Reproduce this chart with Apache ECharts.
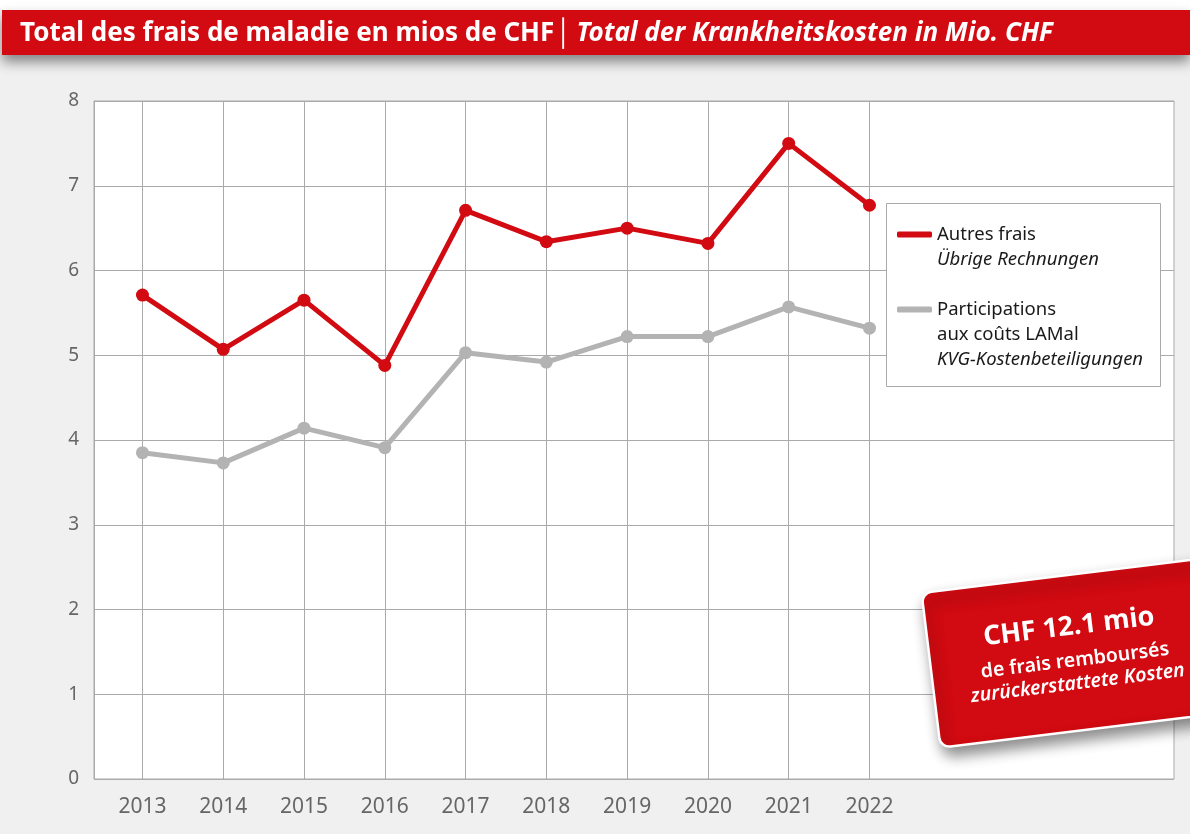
<!DOCTYPE html>
<html>
<head>
<meta charset="utf-8">
<script src="https://cdn.jsdelivr.net/npm/echarts@6/dist/echarts.min.js"></script>
<style>
  html, body { margin: 0; padding: 0; background: #fff; }
  #chart { width: 1190px; height: 834px; }
</style>
</head>
<body>
<div id="chart"></div>
<script>
// années et valeurs (mios CHF)
const years = [2013, 2014, 2015, 2016, 2017, 2018, 2019, 2020, 2021, 2022]
const autresFrais = [5.71, 5.07, 5.65, 4.88, 6.71, 6.34, 6.50, 6.32, 7.50, 6.77]
const participations = [3.85, 3.73, 4.14, 3.91, 5.03, 4.92, 5.22, 5.22, 5.57, 5.32]

const RED = '#d20a11'
const GREY = '#b3b3b3'
const FONT = '"Noto Sans", "Open Sans", sans-serif'

const pairs = vals => years.map((y, i) => [y, vals[i]])

const legendRich = {
  p: { fontFamily: FONT, fontSize: 18.5, lineHeight: 25, color: 'transparent' },
  a: { fontFamily: FONT, fontSize: 18.5, lineHeight: 25, color: '#1a1a1a' },
  b: { fontFamily: FONT, fontSize: 18.5, lineHeight: 25, fontStyle: 'italic', color: '#1a1a1a' }
}
// une légende par série, l'icône alignée sur la première ligne
const makeLegend = (name, top, lines) => ({
  left: 897,
  top: top,
  padding: 0,
  itemWidth: 35,
  itemHeight: 6,
  icon: 'roundRect',
  data: [name],
  formatter: () => lines,
  textStyle: { rich: legendRich }
})

var myChart = echarts.init(document.getElementById('chart'))

const option = {
  backgroundColor: '#f0f0f0',
  animation: false,
  textStyle: { fontFamily: FONT },
  title: {
    left: 15,
    top: 16,
    text: '{a|Total des frais de maladie en mios de CHF}{s|│}{b|Total der Krankheitskosten in Mio. CHF}',
    textStyle: {
      rich: {
        a: { fontFamily: FONT, fontSize: 26, fontWeight: 'bold', color: '#fff' },
        s: { fontFamily: FONT, fontSize: 26, fontWeight: 'normal', color: '#fff', padding: [0, 4, 0, 2] },
        b: { fontFamily: FONT, fontSize: 26, fontWeight: 'bold', fontStyle: 'italic', color: '#fff' }
      }
    }
  },
  grid: {
    left: 94, right: 16, top: 101, bottom: 55,
    show: true,
    backgroundColor: '#fff',
    borderColor: '#aaa',
    borderWidth: 1
  },
  legend: [
    makeLegend('Autres frais', 200, '{p| }\n{a|Autres frais}\n{b|Übrige Rechnungen}'),
    makeLegend('Participations', 250, '{p| }\n{p| }\n{a|Participations}\n{a|aux coûts LAMal}\n{b|KVG-Kostenbeteiligungen}')
  ],
  xAxis: {
    type: 'value',
    min: 2012.4,
    max: 2025.77,
    axisLine: { show: false },
    axisTick: { show: false, customValues: years },
    splitLine: { show: true, lineStyle: { color: '#aaa', width: 1 } },
    axisLabel: {
      customValues: years,
      margin: 18,
      color: '#666',
      fontSize: 21,
      fontFamily: FONT,
      formatter: v => String(v)
    }
  },
  yAxis: {
    type: 'value',
    min: 0,
    max: 8,
    interval: 1,
    axisLine: { show: true, lineStyle: { color: '#aaa' } },
    axisTick: { show: false },
    splitLine: { show: true, lineStyle: { color: '#aaa', width: 1 } },
    axisLabel: { margin: 15, color: '#666', fontSize: 19, fontFamily: FONT }
  },
  series: [
    {
      name: 'Autres frais',
      type: 'line',
      data: pairs(autresFrais),
      symbol: 'circle',
      symbolSize: 13,
      lineStyle: { color: RED, width: 5 },
      itemStyle: { color: RED },
      z: 3
    },
    {
      name: 'Participations',
      type: 'line',
      data: pairs(participations),
      symbol: 'circle',
      symbolSize: 13,
      lineStyle: { color: GREY, width: 5 },
      itemStyle: { color: GREY },
      z: 3
    }
  ],
  graphic: [
    // bandeau rouge du titre
    {
      type: 'rect', z: -1, silent: true,
      shape: { x: 0, y: 0, width: 1190, height: 10 },
      style: { fill: '#fff' }
    },
    {
      type: 'rect', z: 1, silent: true,
      shape: { x: 2, y: 10, width: 1188, height: 45 },
      style: { fill: RED, shadowBlur: 12, shadowOffsetY: 7, shadowColor: 'rgba(0,0,0,0.45)' }
    },
    // cadre de la légende
    {
      type: 'rect', z: 3, silent: true,
      shape: { x: 886.5, y: 203.5, width: 274, height: 183 },
      style: { fill: '#fff', stroke: '#aaa', lineWidth: 1 }
    },
    // étiquette rouge
    {
      type: 'group', z: 20,
      x: 1072, y: 653,
      rotation: 7 * Math.PI / 180,
      children: [
        {
          type: 'rect', z: 20,
          shape: { x: -142, y: -78, width: 284, height: 156, r: 10 },
          style: {
            fill: RED, stroke: '#fff', lineWidth: 2.5,
            shadowBlur: 14, shadowOffsetX: 4, shadowOffsetY: 8, shadowColor: 'rgba(0,0,0,0.45)'
          }
        },
        {
          type: 'text', z: 21,
          x: 0, y: -26,
          style: { text: 'CHF 12.1 mio', fill: '#fff', font: 'bold 27px ' + FONT, align: 'center', verticalAlign: 'middle' }
        },
        {
          type: 'text', z: 21,
          x: 2, y: 8,
          style: { text: 'de frais remboursés', fill: '#fff', font: '600 19.5px ' + FONT, align: 'center', verticalAlign: 'middle' }
        },
        {
          type: 'text', z: 21,
          x: 2, y: 31,
          style: { text: 'zurückerstattete Kosten', fill: '#fff', font: 'italic 600 19.5px ' + FONT, align: 'center', verticalAlign: 'middle' }
        }
      ]
    }
  ]
}

myChart.setOption(option)
</script>
</body>
</html>
